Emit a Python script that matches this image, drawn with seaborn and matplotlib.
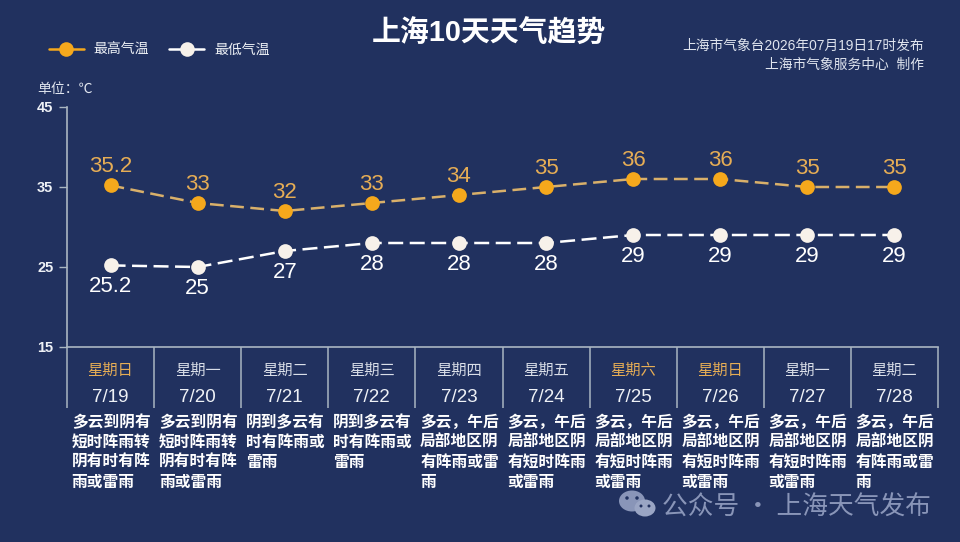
import matplotlib
matplotlib.use("Agg")
import matplotlib.pyplot as plt
from matplotlib.patches import Ellipse
import pandas as pd
import seaborn as sns

weekdays = ["星期日", "星期一", "星期二", "星期三", "星期四", "星期五", "星期六", "星期日", "星期一", "星期二"]
dates = ["7/19", "7/20", "7/21", "7/22", "7/23", "7/24", "7/25", "7/26", "7/27", "7/28"]
high = [35.2, 33, 32, 33, 34, 35, 36, 36, 35, 35]
low = [25.2, 25, 27, 28, 28, 28, 29, 29, 29, 29]
high_labels = ["35.2", "33", "32", "33", "34", "35", "36", "36", "35", "35"]
low_labels = ["25.2", "25", "27", "28", "28", "28", "29", "29", "29", "29"]
weekend = [True, False, False, False, False, False, True, True, False, False]
descriptions = [
    "多云到阴有\n短时阵雨转\n阴有时有阵\n雨或雷雨",
    "多云到阴有\n短时阵雨转\n阴有时有阵\n雨或雷雨",
    "阴到多云有\n时有阵雨或\n雷雨",
    "阴到多云有\n时有阵雨或\n雷雨",
    "多云，午后\n局部地区阴\n有阵雨或雷\n雨",
    "多云，午后\n局部地区阴\n有短时阵雨\n或雷雨",
    "多云，午后\n局部地区阴\n有短时阵雨\n或雷雨",
    "多云，午后\n局部地区阴\n有短时阵雨\n或雷雨",
    "多云，午后\n局部地区阴\n有短时阵雨\n或雷雨",
    "多云，午后\n局部地区阴\n有阵雨或雷\n雨",
]
y_ticks = [15, 25, 35, 45]

BG = "#21315f"
AXC = "#aab6c2"
ORANGE = "#f5a81c"
TAN = "#d9b06a"
WHITE = "#f7f1ea"
TXT = "#eef1f6"
LABEL_ORANGE = "#e6ad55"
FONTS = ["Liberation Sans", "Noto Sans CJK SC", "DejaVu Sans"]
CJK = ["Noto Sans CJK SC", "DejaVu Sans"]

sns.set_theme(style="white")
plt.rcParams["font.family"] = FONTS

W, H = 960, 542
fig = plt.figure(figsize=(W / 100, H / 100), dpi=100, facecolor=BG)
L, R, T, B = 67, 938, 107, 347
ax = fig.add_axes([L / W, 1 - B / H, (R - L) / W, (B - T) / H], facecolor=BG)


def fp(x, y):
    return x / W, 1 - y / H


positions = [i + 0.5 for i in range(len(dates))]
df = pd.DataFrame({
    "x": positions * 2,
    "temp": high + low,
    "series": ["最高气温"] * len(high) + ["最低气温"] * len(low),
})
sns.lineplot(
    data=df, x="x", y="temp", hue="series", style="series", ax=ax,
    palette={"最高气温": TAN, "最低气温": "#ffffff"},
    dashes={"最高气温": (5.5, 2.6), "最低气温": (6, 2.6)},
    markers={"最高气温": "o", "最低气温": "o"},
    markersize=0, linewidth=1.8, errorbar=None, clip_on=False,
)
# markers on top of the dashed lines
sns.scatterplot(x=positions, y=high, color=ORANGE, s=112, linewidth=0, ax=ax, zorder=5, clip_on=False, legend=False)
sns.scatterplot(x=positions, y=low, color=WHITE, s=112, linewidth=0, ax=ax, zorder=5, clip_on=False, legend=False)

ax.set_xlim(0, len(dates))
ax.set_ylim(15, 45)
ax.set_xlabel("")
ax.set_ylabel("")
for s in ("top", "right"):
    ax.spines[s].set_visible(False)
for s in ("left", "bottom"):
    ax.spines[s].set_color(AXC)
    ax.spines[s].set_linewidth(1.2)

ax.set_yticks(y_ticks)
ax.set_yticklabels([str(v) for v in y_ticks], color=TXT, fontsize=10.5, fontweight="bold")
ax.tick_params(axis="y", length=5.8, width=1, color=AXC, pad=4, left=True)

ax.set_xticks(range(len(dates) + 1), minor=True)
ax.tick_params(axis="x", which="minor", length=44, width=1.1, color=AXC, bottom=True)
ax.set_xticks(positions)
ax.set_xticklabels(weekdays, fontsize=11, family=CJK)
ax.tick_params(axis="x", which="major", length=0, pad=11)
for lab, we in zip(ax.get_xticklabels(), weekend):
    lab.set_color(LABEL_ORANGE if we else "#d9dee8")

for x, h, l, hl, ll, d, txt in zip(positions, high, low, high_labels, low_labels, dates, descriptions):
    ax.annotate(hl, (x, h), xytext=(0, 13.5), textcoords="offset points", ha="center", va="center",
                color=LABEL_ORANGE, fontsize=16)
    ax.annotate(ll, (x, l), xytext=(0, -15.5), textcoords="offset points", ha="center", va="center",
                color="#ffffff", fontsize=16)
    ax.annotate(d, (x, 0), xycoords=("data", "axes fraction"), xytext=(0, -36),
                textcoords="offset points", ha="center", va="center", color=TXT, fontsize=13.5)
    ax.annotate(txt, (x - 0.5, 0), xycoords=("data", "axes fraction"), xytext=(3.4, -48),
                textcoords="offset points", ha="left", va="top", color="#ffffff", fontsize=11.3,
                fontweight="bold", family=CJK, linespacing=1.32)

# legend
handles, labels = ax.get_legend_handles_labels()
for hd, mc in zip(handles, (ORANGE, WHITE)):
    hd.set_linestyle("-")
    hd.set_marker("o")
    hd.set_markersize(10.5)
    hd.set_markerfacecolor(mc)
    hd.set_markeredgewidth(0)
    hd.set_color({ORANGE: ORANGE, WHITE: "#ffffff"}[mc])
    hd.set_linewidth(1.8)
leg = ax.legend(handles, labels, loc="center left", bbox_to_anchor=fp(49, 49.5), bbox_transform=fig.transFigure,
                ncol=2, frameon=False, prop={"family": CJK, "size": 10}, handlelength=2.5, handletextpad=0.72,
                columnspacing=1.44, borderpad=0, borderaxespad=0)
for t in leg.get_texts():
    t.set_color(TXT)

# headings
x0, y0 = fp(489, 34)
fig.text(x0, y0, "上海10天天气趋势", ha="center", va="center", color="#ffffff", fontsize=20.8, fontweight="bold")
x0, y0 = fp(924, 46)
fig.text(x0, y0, "上海市气象台2026年07月19日17时发布", ha="right", va="center", color="#dfe4ee", fontsize=9.9)
x0, y0 = fp(924, 65)
fig.text(x0, y0, "上海市气象服务中心  制作", ha="right", va="center", color="#dfe4ee", fontsize=9.9)
x0, y0 = fp(37, 89)
fig.text(x0, y0, "单位：℃", ha="left", va="center", color="#dfe4ee", fontsize=10, family=CJK)

# watermark
WM = "#8995b8"
x0, y0 = fp(662, 508)
fig.text(x0, y0, "公众号 · 上海天气发布", ha="left", va="center", color=WM, fontsize=18.5, family=CJK)
for cx, cy, w, h, c in [(632, 501, 26, 21, WM), (645, 508, 21, 17, "#9aa5c4"),
                        (627, 498, 3.5, 3.5, BG), (637, 498, 3.5, 3.5, BG),
                        (641, 506, 3, 3, BG), (649, 506, 3, 3, BG)]:
    fx, fy = fp(cx, cy)
    fig.add_artist(Ellipse((fx, fy), w / W, h / H, transform=fig.transFigure, facecolor=c, edgecolor="none"))

fig.savefig("out.png", dpi=100, facecolor=BG)
